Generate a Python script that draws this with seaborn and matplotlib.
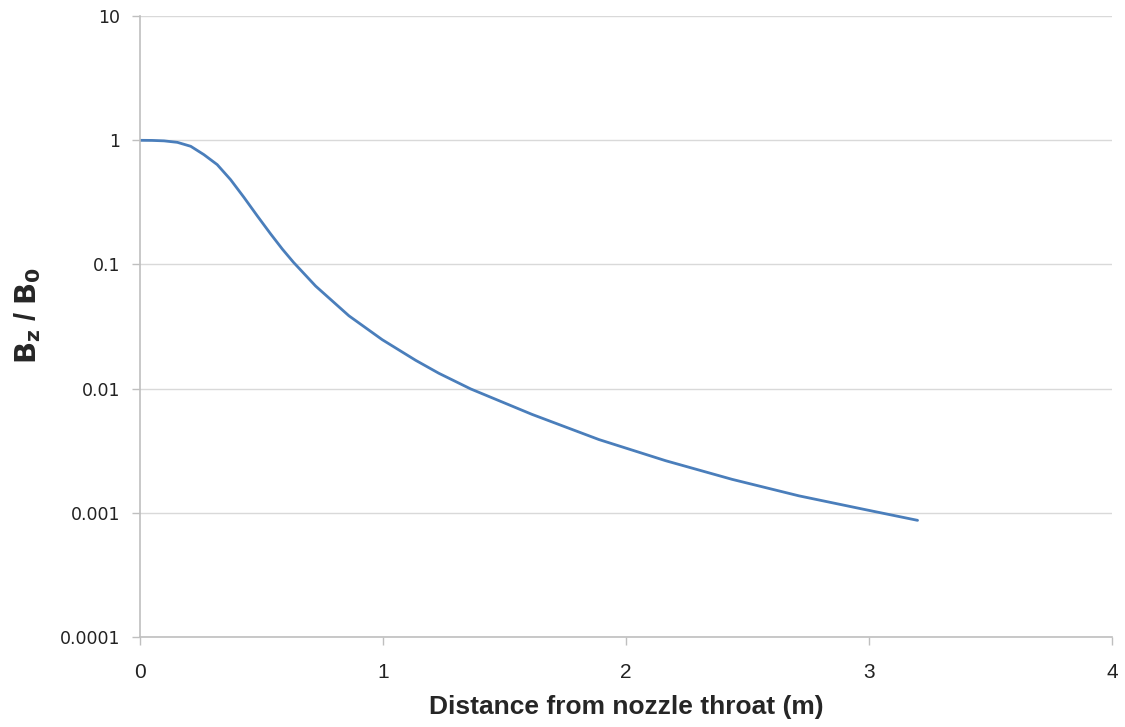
import matplotlib
matplotlib.use("Agg")
import matplotlib.pyplot as plt
import matplotlib.ticker as mticker
import pandas as pd
import seaborn as sns

# values
distance = [0.0, 0.05, 0.099, 0.154, 0.209, 0.263, 0.318, 0.373, 0.428, 0.483,
            0.538, 0.586, 0.632, 0.723, 0.86, 0.997, 1.135, 1.23, 1.361, 1.614,
            1.889, 2.163, 2.437, 2.712, 2.986, 3.2]
field_ratio = [1.0, 0.998, 0.99, 0.963, 0.895, 0.767, 0.637, 0.482, 0.347, 0.246,
               0.176, 0.133, 0.104, 0.067, 0.0386, 0.0248, 0.0169, 0.0133, 0.00995,
               0.0062, 0.00389, 0.00263, 0.00186, 0.00137, 0.00106, 0.00087]

y_ticks = [0.0001, 0.001, 0.01, 0.1, 1, 10]
y_tick_labels = ["0.0001", "0.001", "0.01", "0.1", "1", "10"]
x_ticks = [0, 1, 2, 3, 4]

df = pd.DataFrame({"distance": distance, "ratio": field_ratio})

sns.set_style("white")
plt.rcParams["font.family"] = ["DejaVu Sans"]

fig = plt.figure(figsize=(11.25, 7.27), dpi=100)
ax = fig.add_axes([0.1244, 0.1238, 0.864, 0.854])

sns.lineplot(data=df, x="distance", y="ratio", ax=ax, color="#4a7ebb",
             linewidth=2.0, estimator=None, sort=True)
ax.lines[0].set_solid_joinstyle("round")

ax.set_yscale("log")
ax.set_ylim(0.0001, 10)
ax.set_xlim(0, 4)
ax.set_yticks(y_ticks)
ax.set_yticklabels(y_tick_labels)
ax.yaxis.set_minor_locator(mticker.NullLocator())
ax.set_xticks(x_ticks)

ax.grid(axis="y", color="#d9d9d9", linewidth=1.0)
ax.grid(axis="x", visible=False)
ax.set_axisbelow(True)

for side in ["top", "right"]:
    ax.spines[side].set_visible(False)
for side in ["left", "bottom"]:
    ax.spines[side].set_color("#bfbfbf")
    ax.spines[side].set_linewidth(1.2)

ax.tick_params(axis="both", which="major", direction="out", length=6,
               width=1, color="#bfbfbf", left=True, bottom=True)
ax.tick_params(axis="y", labelsize=12.5, labelcolor="#222222", pad=8)
ax.tick_params(axis="x", labelsize=15, labelcolor="#222222", pad=13)
for lbl in ax.get_xticklabels():
    lbl.set_family(["Liberation Sans Narrow", "Liberation Sans"])

ax.set_xlabel("Distance from nozzle throat (m)", fontsize=19, fontweight="bold",
              family=["Liberation Sans Narrow", "Liberation Sans"], labelpad=9)
ax.set_ylabel(r"$\mathbf{B_z}$ / $\mathbf{B_0}$", fontsize=21, fontweight="bold",
              family=["Liberation Sans"])
ax.yaxis.set_label_coords(-0.100, 0.518)

fig.savefig("out.png", dpi=100, facecolor="white")
